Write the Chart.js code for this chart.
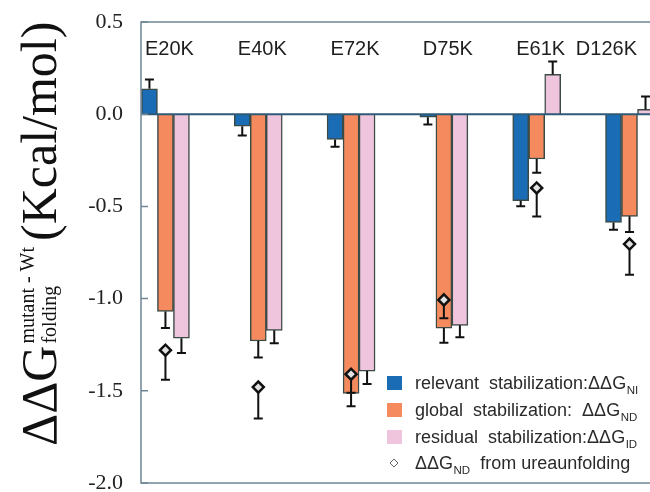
<!DOCTYPE html>
<html><head><meta charset="utf-8">
<script src="https://cdn.jsdelivr.net/npm/chart.js@4.4.0/dist/chart.umd.min.js"></script>
<style>html,body{margin:0;padding:0;background:#fff;overflow:hidden;width:650px;height:492px}</style>
</head><body><canvas id="c" width="670" height="492"></canvas>
<script>
const categories = ['E20K','E40K','E72K','D75K','E61K','D126K'];
const relevant    = [0.138, -0.065, -0.137, -0.016, -0.469, -0.587];
const relevantErr = [0.05, 0.05, 0.04, 0.04, 0.03, 0.04];
const globalStab  = [-1.07, -1.23, -1.514, -1.16, -0.243, -0.554];
const globalErr   = [0.09, 0.09, 0.07, 0.08, 0.075, 0.085];
const residual    = [-1.215, -1.172, -1.393, -1.145, 0.216, 0.026];
const residualErr = [0.08, 0.07, 0.07, 0.065, 0.07, 0.07];
const urea        = [-1.28, -1.48, -1.41, -1.007, -0.40, -0.704];
const ureaErr     = [0.16, 0.17, 0.10, 0.10, 0.155, 0.167];
const yTicks = [0.5, 0.0, -0.5, -1.0, -1.5, -2.0];
const legendText = ['relevant  stabilization:', 'global  stabilization:  ', 'residual  stabilization:', ''];
const legendSub = ['NI', 'ND', 'ID', 'ND'];
const legendTail = ['', '', '', '  from ureaunfolding'];

const colors = ['#1a6cb5', '#f48a5e', '#efc5dd'];
const pts = arr => arr.map((v, i) => ({x: i, y: v}));
const errs = [relevantErr, globalErr, residualErr];

const SANS = '"Liberation Sans", Arial, sans-serif';
const SERIF = '"Liberation Serif", "Times New Roman", serif';

function errBar(ctx, x, y0, y1) {
  ctx.beginPath();
  ctx.moveTo(x, y0); ctx.lineTo(x, y1);
  ctx.moveTo(x - 4.5, y1); ctx.lineTo(x + 4.5, y1);
  ctx.stroke();
}

const decor = {
  id: 'decor',
  beforeDatasetDraw(chart, args) {
    if (args.index !== 3) return;
    const ctx = chart.ctx, ys = chart.scales.y;
    ctx.save();
    ctx.strokeStyle = '#111'; ctx.lineWidth = 2;
    const series = [relevant, globalStab, residual];
    for (let d = 0; d < 3; d++) {
      const meta = chart.getDatasetMeta(d);
      series[d].forEach((v, i) => {
        const el = meta.data[i];
        const s = v >= 0 ? 1 : -1;
        errBar(ctx, el.x, el.y, ys.getPixelForValue(v + s * errs[d][i]));
      });
    }
    const um = chart.getDatasetMeta(3);
    urea.forEach((v, i) => {
      const el = um.data[i];
      errBar(ctx, el.x, el.y, ys.getPixelForValue(v - ureaErr[i]));
    });
    ctx.restore();
  },
  afterDraw(chart) {
    const ctx = chart.ctx, a = chart.chartArea, xs = chart.scales.x, ys = chart.scales.y;
    ctx.save();
    // zero line
    ctx.strokeStyle = '#2f5a78'; ctx.lineWidth = 2;
    const z = ys.getPixelForValue(0);
    ctx.beginPath(); ctx.moveTo(a.left, z); ctx.lineTo(a.right + 20, z); ctx.stroke();
    // box
    ctx.strokeStyle = '#6f8796'; ctx.lineWidth = 1.5;
    ctx.strokeRect(a.left, a.top, a.right - a.left + 30, a.bottom - a.top);
    // inward ticks
    ctx.beginPath();
    yTicks.forEach(v => { const y = ys.getPixelForValue(v); ctx.moveTo(a.left, y); ctx.lineTo(a.left + 7, y); });
    ctx.stroke();
    // category labels inside top
    ctx.fillStyle = '#1e1e1e'; ctx.font = '20px ' + SANS; ctx.textAlign = 'center'; ctx.textBaseline = 'alphabetic';
    categories.forEach((c, i) => {
      const w = ctx.measureText(c).width;
      let cx = xs.getPixelForValue(i) + 4;
      cx = Math.min(cx, 637 - w / 2);
      ctx.fillText(c, cx, 55);
    });
    // legend
    ctx.textAlign = 'left';
    const rowY = [383, 410, 437, 463];
    for (let r = 0; r < 4; r++) {
      const cy = rowY[r];
      if (r < 3) {
        ctx.fillStyle = colors[r];
        ctx.fillRect(387, cy - 7, 15, 14);
      } else {
        ctx.strokeStyle = '#666'; ctx.lineWidth = 1;
        ctx.beginPath(); ctx.moveTo(394, cy - 4); ctx.lineTo(398, cy); ctx.lineTo(394, cy + 4); ctx.lineTo(390, cy); ctx.closePath(); ctx.stroke();
      }
      ctx.fillStyle = '#2a2a2a';
      let x = 415; const base = cy + 6;
      ctx.font = '18px ' + SANS;
      const t = legendText[r] + 'ΔΔG';
      ctx.fillText(t, x, base); x += ctx.measureText(t).width + 0.5;
      ctx.font = '11.5px ' + SANS;
      ctx.fillText(legendSub[r], x, base + 5); x += ctx.measureText(legendSub[r]).width;
      if (legendTail[r]) {
        ctx.font = '18px ' + SANS;
        ctx.fillText(legendTail[r], x, base);
      }
    }
    // y title
    ctx.translate(56, 446); ctx.rotate(-Math.PI / 2);
    ctx.fillStyle = '#111';
    ctx.font = '50px ' + SERIF;
    ctx.fillText('ΔΔG', 0, 0);
    const w1 = ctx.measureText('ΔΔG').width;
    ctx.font = '20px ' + SERIF;
    ctx.fillText('mutant - Wt', w1 + 2, -22);
    const ws = ctx.measureText('mutant - Wt').width;
    ctx.fillText('folding', w1 + 2, 0);
    ctx.font = '50px ' + SERIF;
    ctx.fillText('(Kcal/mol)', w1 + 2 + ws + 6, 0);
    ctx.restore();
  }
};

const barBase = {type: 'bar', barThickness: 16, borderColor: '#3b4a45', borderWidth: 1.5, order: 0};
new Chart(document.getElementById('c'), {
  type: 'bar',
  data: {
    datasets: [
      Object.assign({label: 'relevant', data: pts(relevant), backgroundColor: colors[0]}, barBase),
      Object.assign({label: 'global', data: pts(globalStab), backgroundColor: colors[1]}, barBase),
      Object.assign({label: 'residual', data: pts(residual), backgroundColor: colors[2]}, barBase),
      {type: 'line', label: 'urea', data: pts(urea), showLine: false, order: -1,
       pointStyle: 'rectRot', pointRadius: 5.5, pointBorderWidth: 2.5,
       pointBorderColor: '#111', pointBackgroundColor: '#e2e2e2'}
    ]
  },
  options: {
    responsive: false, animation: false,
    layout: {padding: {top: 22, bottom: 9, left: 0, right: 0}},
    plugins: {legend: {display: false}, tooltip: {enabled: false}},
    scales: {
      x: {type: 'linear', display: false, offset: false, min: -0.2634, max: 5.35},
      y: {min: -2, max: 0.5,
          afterBuildTicks: s => { s.ticks = yTicks.map(v => ({value: v})); },
          afterFit: s => { s.width = 141; s.paddingTop = 0; s.paddingBottom = 0; },
          grid: {display: false, drawTicks: false}, border: {display: false},
          ticks: {padding: 18, color: '#222', font: {family: SERIF, size: 22},
                  callback: v => Number(v).toFixed(1)}}
    }
  },
  plugins: [decor]
});
</script></body></html>
